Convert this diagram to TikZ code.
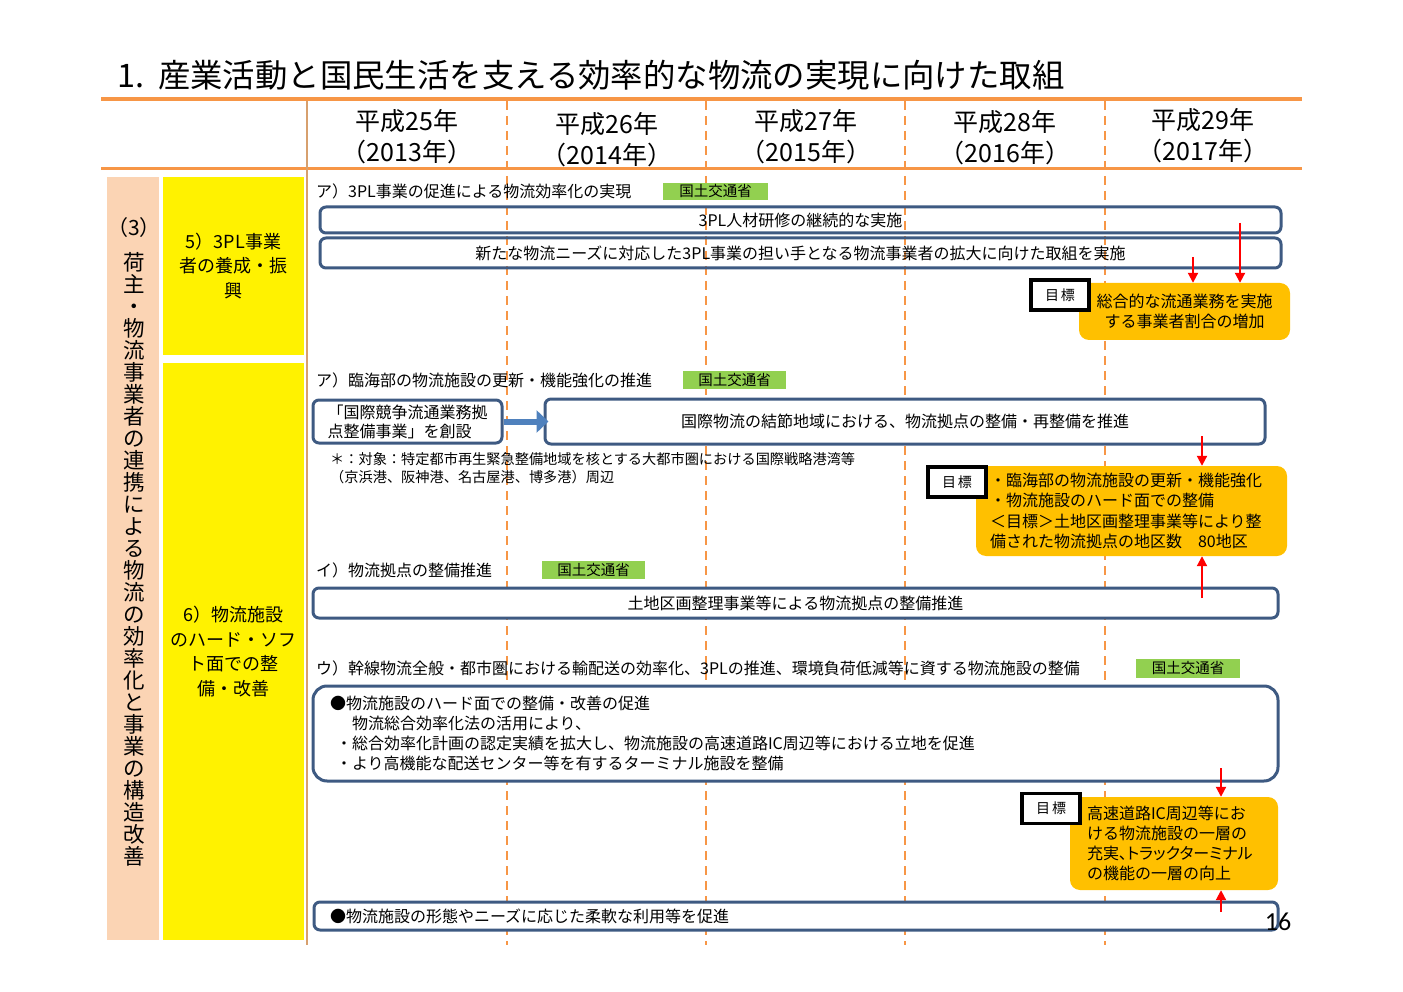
\documentclass[tikz,border=0pt]{standalone}
\usepackage{fontspec}
\setmainfont{Noto Sans CJK JP}
\newfontfamily\jpp{Noto Sans CJK JP}[RawFeature=+palt]
\newfontfamily\calib{Carlito}
\usetikzlibrary{arrows.meta}
\definecolor{borange}{RGB}{247,150,70}
\definecolor{tanline}{RGB}{215,160,110}
\definecolor{bline}{RGB}{62,90,130}
\definecolor{lgreen}{RGB}{146,208,80}
\definecolor{gold}{RGB}{255,192,0}
\definecolor{pinkc}{RGB}{251,212,180}
\definecolor{barrow}{RGB}{79,129,189}
\newcommand{\fsz}[2]{\fontsize{#1}{#2}\selectfont}
\begin{document}
\begin{tikzpicture}[x=1pt,y=-1pt,
  txt/.style={inner sep=0pt, anchor=west, font=\fsz{16}{19}},
  yr/.style={align=center, inner sep=0pt, font=\fsz{25}{31}},
  lbox/.style={draw=bline, line width=3pt, rounded corners=6pt, inner sep=0pt, font=\fsz{16}{20}},
  wbox/.style={lbox, fill=white},
  gbox/.style={fill=lgreen, inner sep=0pt, font=\fsz{14.5}{16}},
  goalbox/.style={draw=black, line width=3.5pt, fill=white, minimum width=58pt, minimum height=30pt, inner sep=0pt, font=\fsz{14}{16}},
  obox/.style={fill=gold, rounded corners=10pt, inner sep=0pt, font=\fsz{16}{20}},
  ybox/.style={fill=yellow, inner sep=0pt, align=center, font=\fsz{18}{24.5}},
  redarr/.style={draw=red, line width=2pt, -{Triangle[length=10pt,width=10pt]}},
  bluearr/.style={draw=barrow, line width=6pt, -{Triangle[length=12pt,width=22pt]}},
  vdash/.style={draw=borange, line width=2pt, dash pattern=on 9pt off 6pt}]
\useasboundingbox (0,0) rectangle (1403,992);

% title
\node[txt, font=\fsz{32.4}{36}] (title) at (117,75) {1.\hspace{14pt}産業活動と国民生活を支える効率的な物流の実現に向けた取組};

% grid lines
\draw[line width=4.5pt, draw=borange] (101,99) -- (1302,99);
\draw[line width=3pt, draw=borange] (101,169) -- (1302,169);
\draw[line width=2pt, draw=tanline] (307,101) -- (307,945);
\foreach \x in {507,706,905,1105} \draw[vdash] (\x,101) -- (\x,945);

% year headers
\node[yr] (y1) at (407,136.5) {平成25年\\（2013年）};
\node[yr] (y2) at (607,139.5) {平成26年\\（2014年）};
\node[yr] (y3) at (806,136.5) {平成27年\\（2015年）};
\node[yr] (y4) at (1005,138) {平成28年\\（2016年）};
\node[yr] (y5) at (1203,135.5) {平成29年\\（2017年）};

% left columns
\node[fill=pinkc, minimum width=52pt, minimum height=763pt, inner sep=0pt] (pk) at (133,558.5) {};
\node[inner sep=0pt, font=\fsz{21}{22}] (pk3) at (134,228) {（3）};
\node[inner sep=0pt, align=center, font=\fsz{21.5}{22}] (pkv) at (134,559) {荷\\主\\・\\物\\流\\事\\業\\者\\の\\連\\携\\に\\よ\\る\\物\\流\\の\\効\\率\\化\\と\\事\\業\\の\\構\\造\\改\\善};
\node[ybox, minimum width=141pt, minimum height=178pt] (yb5) at (233.5,266) {5）3PL事業\\者の養成・振\\興};
\node[ybox, minimum width=141pt, minimum height=577pt] (yb6) at (233.5,651.5) {6）物流施設\\のハード・ソフ\\ト面での整\\備・改善};

% ---- section 5
\node[txt] (t1) at (316,191) {ア）3PL事業の促進による物流効率化の実現};
\node[gbox, minimum width=105pt, minimum height=17pt] (g1) at (715.5,191.5) {国土交通省};
\node[lbox, minimum width=961pt, minimum height=26pt] (b1) at (800.5,220) {3PL人材研修の継続的な実施};
\node[lbox, minimum width=961pt, minimum height=30pt] (b2) at (800.5,253) {新たな物流ニーズに対応した3PL事業の担い手となる物流事業者の拡大に向けた取組を実施};
\node[obox, minimum width=211pt, minimum height=57pt, align=center] (o1) at (1184.5,311.5) {総合的な流通業務を実施\\する事業者割合の増加};
\node[goalbox] (m1) at (1060,295) {目\hspace{2pt}標};
\coordinate (a1s) at (1240,223);
\coordinate (a2s) at (1193,257);
\draw[redarr] (a1s) -- (a1s |- o1.north);
\draw[redarr] (a2s) -- (a2s |- o1.north);

% ---- section 6 ア
\node[txt] (t2) at (316,380) {ア）臨海部の物流施設の更新・機能強化の推進};
\node[gbox, minimum width=103pt, minimum height=18pt] (g2) at (734.5,380) {国土交通省};
\node[wbox, text width=160pt, inner xsep=14.5pt, minimum height=43pt, align=left, font=\fsz{16}{19}] (b3) at (407.5,421.5) {「国際競争流通業務拠\\点整備事業」を創設};
\node[wbox, minimum width=720pt, minimum height=45pt] (b4) at (905,421.5) {国際物流の結節地域における、物流拠点の整備・再整備を推進};
\draw[bluearr, shorten >=-5pt] (b3.east) -- (b4.west);
\node[txt, font=\fsz{14.2}{16}] (n1) at (330,459) {＊：対象：特定都市再生緊急整備地域を核とする大都市圏における国際戦略港湾等};
\node[txt, font=\fsz{14.2}{16}] (n2) at (330,477) {（京浜港、阪神港、名古屋港、博多港）周辺};

% ---- section 6 イ
\node[txt] (t3) at (316,570) {イ）物流拠点の整備推進};
\node[gbox, minimum width=103pt, minimum height=18pt] (g3) at (593.5,570) {国土交通省};
\node[wbox, minimum width=965pt, minimum height=30pt] (b5) at (795.5,603) {土地区画整理事業等による物流拠点の整備推進};

\node[obox, text width=283pt, inner xsep=14pt, minimum height=90pt, align=left, font=\fsz{16}{20.3}] (o2) at (1131.5,511) {・臨海部の物流施設の更新・機能強化\\・物流施設のハード面での整備\\＜目標＞土地区画整理事業等により整\\備された物流拠点の地区数　80地区};
\node[goalbox] (m2) at (957,482) {目\hspace{2pt}標};
\coordinate (a3s) at (1202,436);
\coordinate (a4s) at (1202,598);
\draw[redarr] (a3s) -- (a3s |- o2.north);
\draw[redarr] (a4s) -- (a4s |- o2.south);

% ---- section 6 ウ
\node[txt, font=\fsz{16}{19}] (t4) at (316,668) {ウ）幹線物流全般・都市圏における輸配送の効率化、3PLの推進、環境負荷低減等に資する物流施設の整備};
\node[gbox, minimum width=104pt, minimum height=19pt] (g4) at (1188,668.5) {国土交通省};
\node[wbox, rounded corners=14pt, text width=931pt, inner xsep=17pt, minimum height=95pt, align=left, font=\fsz{16}{20}] (b6) at (795.5,733.5) {●物流施設のハード面での整備・改善の促進\\\hspace{22pt}物流総合効率化法の活用により、\\\hspace{6pt}・総合効率化計画の認定実績を拡大し、物流施設の高速道路IC周辺等における立地を促進\\\hspace{6pt}・より高機能な配送センター等を有するターミナル施設を整備};
\node[wbox, text width=932pt, inner xsep=16pt, minimum height=28pt, align=left] (b7) at (796,916) {●物流施設の形態やニーズに応じた柔軟な利用等を促進};
\node[obox, text width=174pt, inner xsep=17pt, minimum height=93pt, align=left, font=\fsz{16}{20}] (o3) at (1174,843.5) {高速道路IC周辺等にお\\ける物流施設の一層の\\{\jpp 充実、トラックターミナル}\\の機能の一層の向上};
\node[goalbox] (m3) at (1051,808.5) {目\hspace{2pt}標};
\coordinate (a5s) at (1221,768);
\coordinate (a6s) at (1221,912);
\draw[redarr] (a5s) -- (a5s |- o3.north);
\draw[redarr] (a6s) -- (a6s |- o3.south);

% page number
\node[inner sep=0pt, font=\calib\fsz{26}{28}] (pg) at (1278,922) {16};
\end{tikzpicture}
\end{document}
